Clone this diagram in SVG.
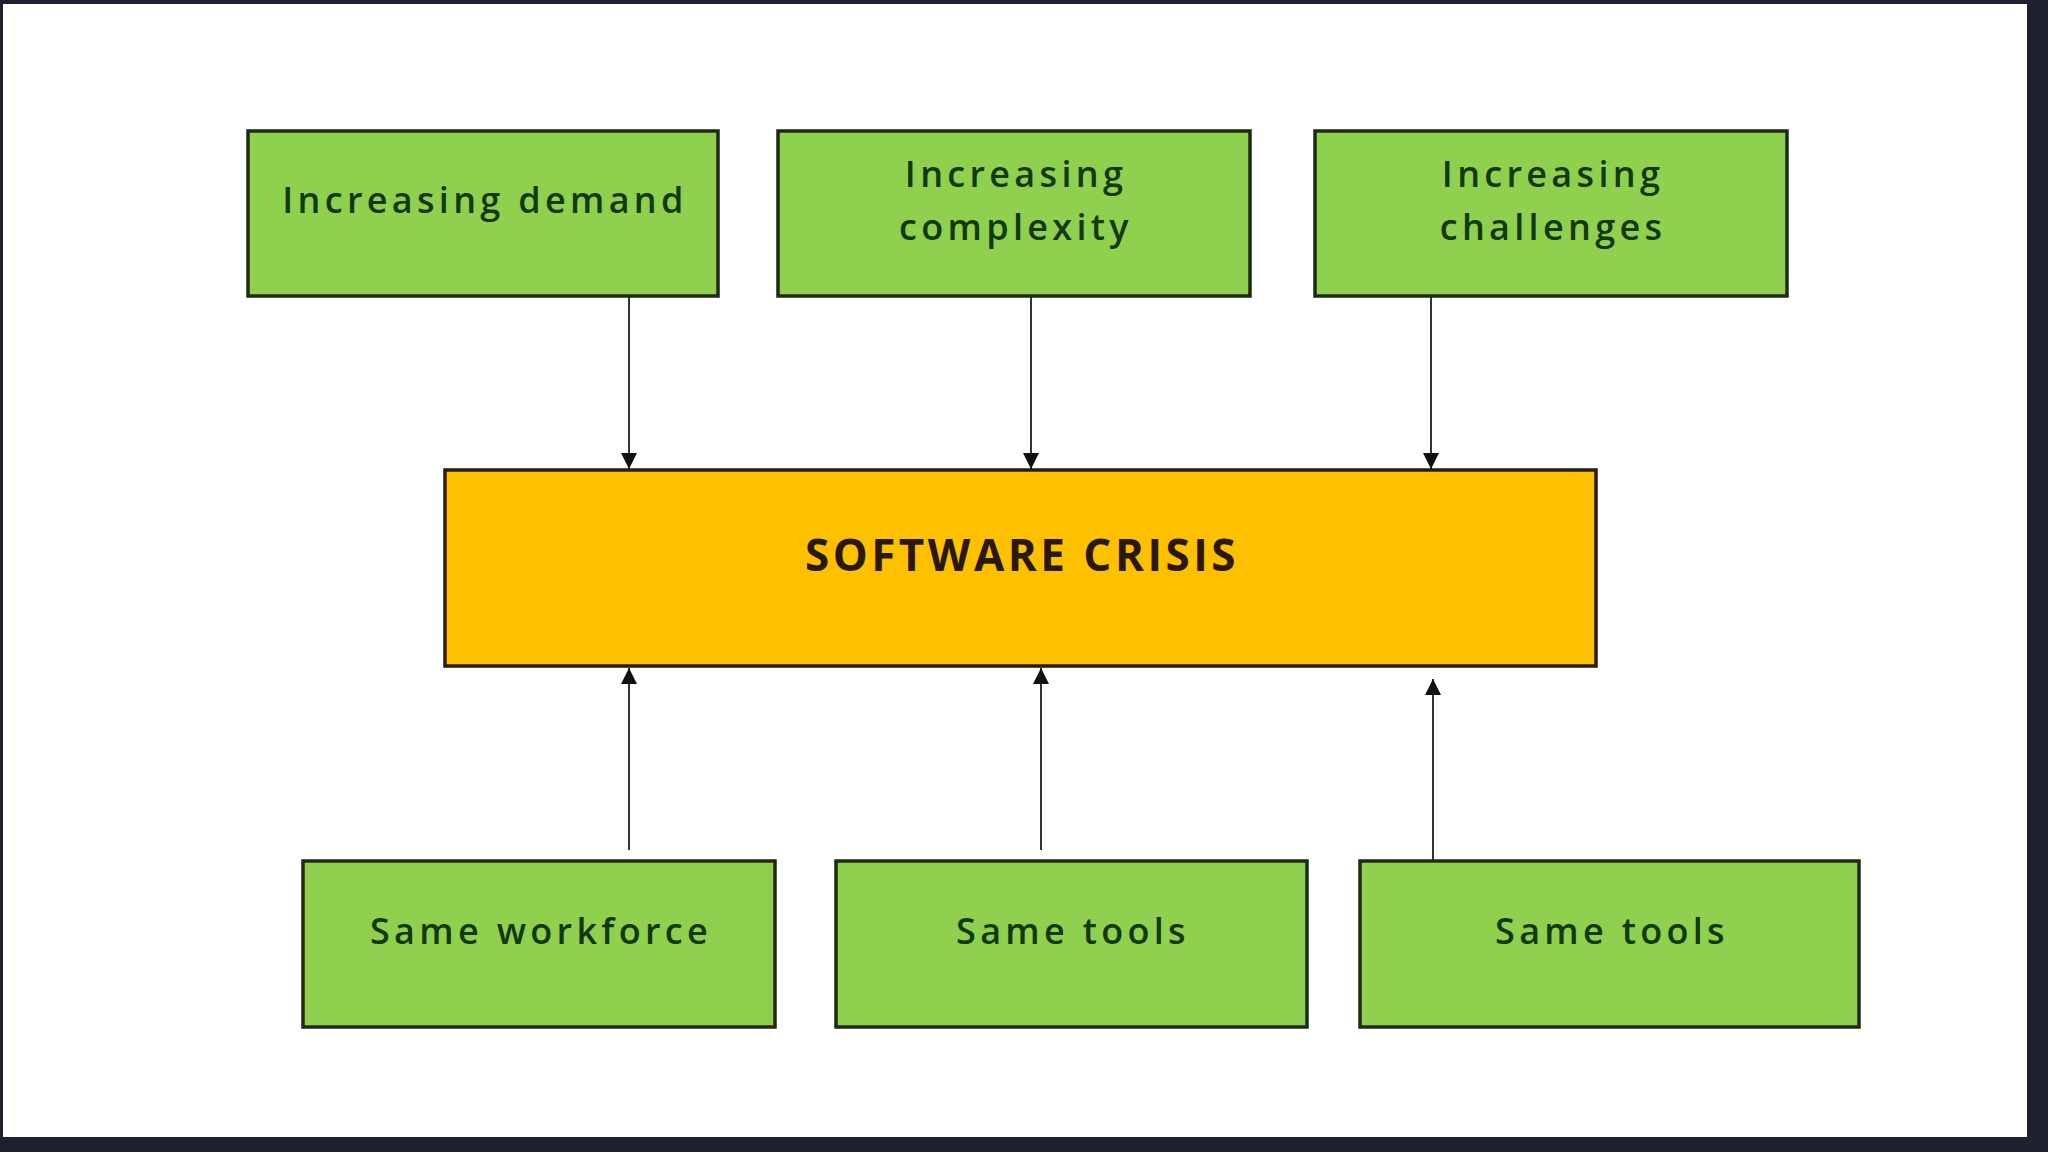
<svg xmlns="http://www.w3.org/2000/svg" width="2048" height="1152" viewBox="0 0 2048 1152">
<style>
.frame{fill:#1f2130}
.page{fill:#ffffff}
.g rect{fill:#8fd14f;stroke:#1f2a14;stroke-width:3.5}
.o rect{fill:#ffc000;stroke:#2a1a08;stroke-width:3.5}
.t{font-family:"Open Sans","Noto Sans",sans-serif;font-size:36px;font-weight:600;fill:#143810;text-anchor:middle;letter-spacing:4.3px}
.tb{font-family:"Open Sans","Noto Sans",sans-serif;font-size:44px;font-weight:700;fill:#2a1808;text-anchor:middle;letter-spacing:3.5px}
.c line{stroke:#333333;stroke-width:2}
</style>
<defs>
<marker id="arr" viewBox="0 0 18 16" refX="16" refY="8" markerWidth="18" markerHeight="16" orient="auto" markerUnits="userSpaceOnUse">
<path d="M0,0 L16,8 L0,16 z" fill="#111111"/>
</marker>
</defs>
<rect class="frame" x="0" y="0" width="2048" height="1152"/>
<rect class="page" x="3" y="4" width="2024" height="1133"/>

<g id="connectors" class="c">
<line x1="629" y1="297" x2="629" y2="469" marker-end="url(#arr)"/>
<line x1="1031" y1="297" x2="1031" y2="469" marker-end="url(#arr)"/>
<line x1="1431" y1="297" x2="1431" y2="469" marker-end="url(#arr)"/>
<line x1="629" y1="850" x2="629" y2="668" marker-end="url(#arr)"/>
<line x1="1041" y1="850" x2="1041" y2="668" marker-end="url(#arr)"/>
<line x1="1433" y1="860" x2="1433" y2="679" marker-end="url(#arr)"/>
</g>

<g id="n-demand" class="g">
<rect x="248" y="131" width="470" height="165"/>
<text class="t" x="485" y="213">Increasing demand</text>
</g>
<g id="n-complexity" class="g">
<rect x="778" y="131" width="472" height="165"/>
<text class="t" x="1016" y="187">Increasing</text>
<text class="t" x="1016" y="240">complexity</text>
</g>
<g id="n-challenges" class="g">
<rect x="1315" y="131" width="472" height="165"/>
<text class="t" x="1553" y="187">Increasing</text>
<text class="t" x="1553" y="240">challenges</text>
</g>
<g id="n-crisis" class="o">
<rect x="445" y="470" width="1151" height="196"/>
<text class="tb" x="1022" y="571">SOFTWARE CRISIS</text>
</g>
<g id="n-workforce" class="g">
<rect x="303" y="861" width="472" height="166"/>
<text class="t" x="541" y="944">Same workforce</text>
</g>
<g id="n-tools1" class="g">
<rect x="836" y="861" width="471" height="166"/>
<text class="t" x="1073" y="944">Same tools</text>
</g>
<g id="n-tools2" class="g">
<rect x="1360" y="861" width="499" height="166"/>
<text class="t" x="1612" y="944">Same tools</text>
</g>
</svg>
